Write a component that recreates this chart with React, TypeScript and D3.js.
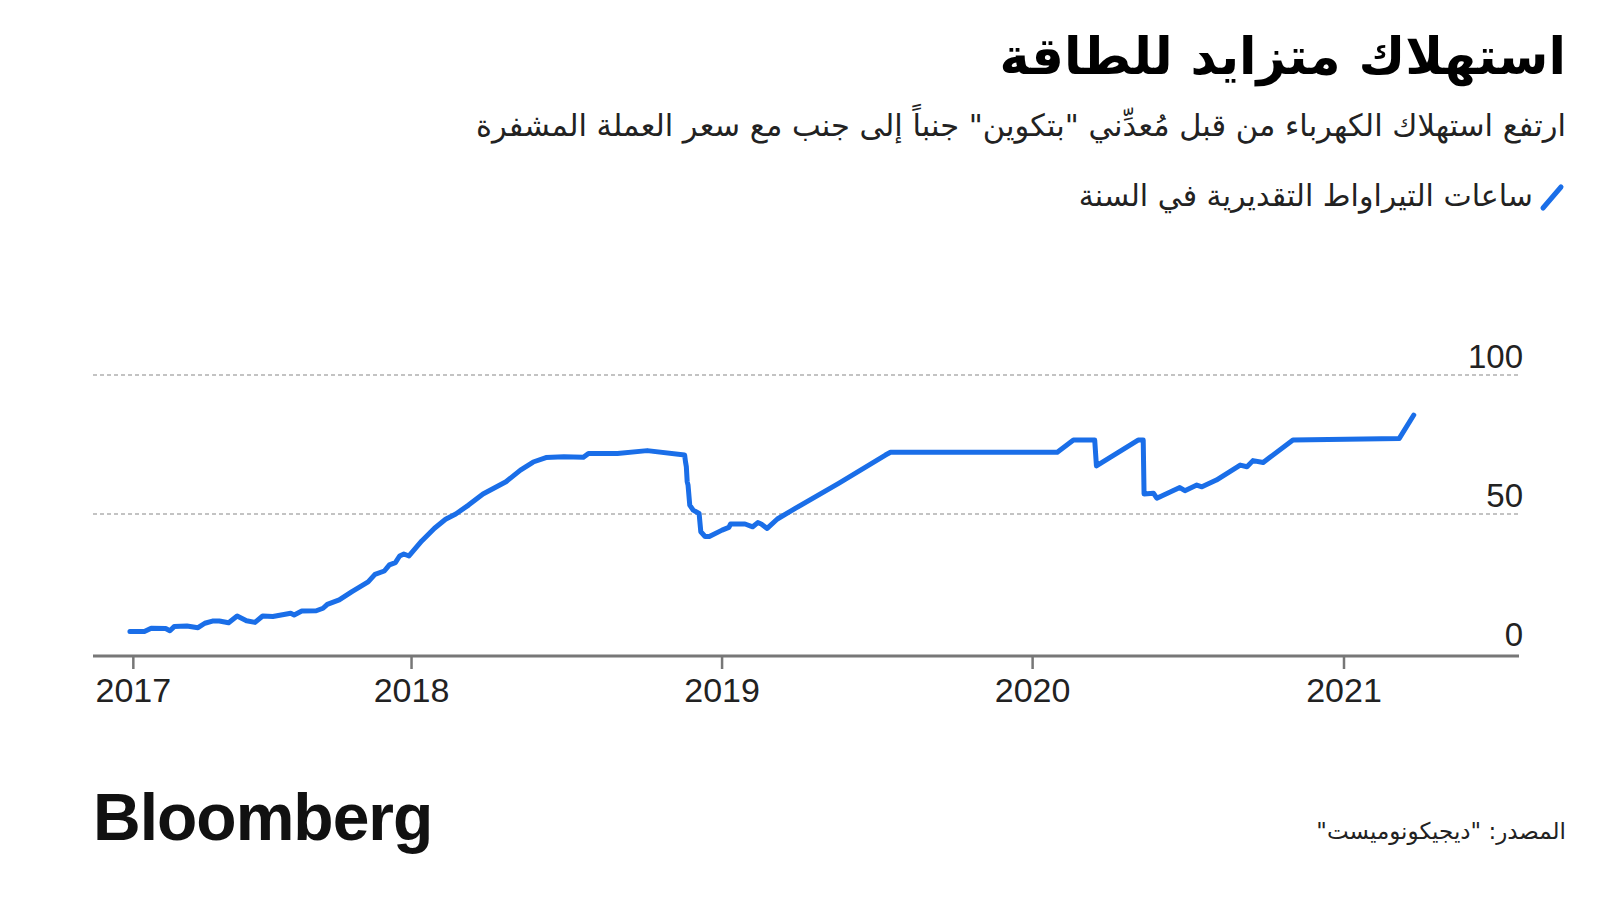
import React from 'react';
import * as d3 from 'd3';

// قراءة تقريبية من الرسم الأصلي
const dates = [
  '2017-02-04', '2017-02-21', '2017-03-01', '2017-03-18', '2017-03-23', '2017-03-28', '2017-04-12', '2017-04-25',
  '2017-05-03', '2017-05-12', '2017-05-20', '2017-05-31', '2017-06-10', '2017-06-21', '2017-07-01', '2017-07-10',
  '2017-07-22', '2017-08-12', '2017-08-16', '2017-08-25', '2017-09-11', '2017-09-19', '2017-09-24', '2017-10-08',
  '2017-10-23', '2017-11-11', '2017-11-19', '2017-11-30', '2017-12-06', '2017-12-13', '2017-12-18', '2017-12-23',
  '2017-12-29', '2018-01-13', '2018-01-28', '2018-02-10', '2018-02-22', '2018-03-09', '2018-03-26', '2018-04-22',
  '2018-05-09', '2018-05-24', '2018-06-08', '2018-06-29', '2018-07-22', '2018-07-28', '2018-08-31', '2018-10-05',
  '2018-11-18', '2018-11-19', '2018-11-20', '2018-11-21', '2018-11-22', '2018-11-24', '2018-11-28', '2018-12-05',
  '2018-12-07', '2018-12-12', '2018-12-17', '2019-01-01', '2019-01-09', '2019-01-11', '2019-01-28', '2019-02-06',
  '2019-02-12', '2019-02-16', '2019-02-23', '2019-03-07', '2019-03-28', '2019-05-18', '2019-07-12', '2019-07-18',
  '2020-01-30', '2020-02-18', '2020-03-14', '2020-03-16', '2020-05-04', '2020-05-10', '2020-05-11', '2020-05-22',
  '2020-05-26', '2020-06-22', '2020-06-28', '2020-07-12', '2020-07-18', '2020-08-04', '2020-09-01', '2020-09-09',
  '2020-09-16', '2020-09-28', '2020-10-06', '2020-11-02', '2021-03-07', '2021-03-24',
];

const twh = [
  7.7, 7.7, 8.9, 8.8, 8.0, 9.5, 9.7, 9.1,
  10.7, 11.5, 11.5, 10.9, 13.3, 11.6, 11.0, 13.3,
  13.1, 14.3, 13.7, 15.1, 15.2, 16.1, 17.5, 19.1,
  22.1, 25.6, 28.3, 29.5, 31.7, 32.5, 34.9, 35.6,
  34.9, 40.3, 44.9, 48.1, 50.0, 53.2, 57.2, 61.6,
  65.8, 68.7, 70.3, 70.6, 70.4, 71.8, 71.8, 72.8,
  71.2, 68.8, 67.0, 61.6, 60.4, 53.2, 51.4, 50.2,
  43.6, 41.9, 41.9, 44.2, 45.2, 46.4, 46.4, 45.4,
  46.9, 46.4, 44.8, 48.2, 52.0, 61.0, 71.2, 72.2,
  72.2, 76.6, 76.6, 67.3, 76.6, 76.6, 57.2, 57.5,
  55.7, 59.5, 58.4, 60.4, 59.8, 62.2, 67.6, 67.0,
  69.2, 68.5, 70.4, 76.6, 77.2, 85.6,
];

const xTickDates = ['2017-02-08', '2018-01-01', '2019-01-01', '2020-01-01', '2021-01-01'];
const xTickLabels = ['2017', '2018', '2019', '2020', '2021'];
const yTicks = [0, 50, 100];

const title = 'استهلاك متزايد للطاقة';
const subtitle = 'ارتفع استهلاك الكهرباء من قبل مُعدِّني "بتكوين" جنباً إلى جنب مع سعر العملة المشفرة';
const legendLabel = 'ساعات التيراواط التقديرية في السنة';
const source = 'المصدر: "ديجيكونوميست"';

const W = 1600;
const H = 900;
const BLUE = '#1a6ee8';
const arabicFont = '"DejaVu Sans", sans-serif';
const latinFont = '"Liberation Sans", Arial, sans-serif';

export default () => {
  const parse = d3.timeParse('%Y-%m-%d');
  const data = dates.map((d, i) => ({ date: parse(d) as Date, value: twh[i] }));

  const x = d3.scaleTime()
    .domain([new Date(2017, 0, 1), new Date(2021, 0, 1)])
    .range([101, 1344]);
  const y = d3.scaleLinear().domain([0, 100]).range([653, 375]);

  const line = d3.line<{ date: Date; value: number }>()
    .x(d => x(d.date))
    .y(d => y(d.value));

  const left = 93;
  const right = 1519;
  const axisY = y(0) + 3;

  return (
    <svg width={W} height={H} style={{ position: 'absolute', left: 0, top: 0, background: '#fff' }}>
      {/* titles */}
      <text x={1566} y={74} direction="rtl" textAnchor="start" fontFamily={arabicFont}
        fontWeight="bold" fontSize={51} fill="#000">{title}</text>
      <text x={1566} y={136} direction="rtl" textAnchor="start" fontFamily={arabicFont}
        fontSize={30.5} fill="#222">{subtitle}</text>

      {/* legend */}
      <line x1={1543} y1={208} x2={1561} y2={187} stroke={BLUE} strokeWidth={5} strokeLinecap="round" />
      <text x={1533} y={206} direction="rtl" textAnchor="start" fontFamily={arabicFont}
        fontSize={30} fill="#222">{legendLabel}</text>

      {/* grid + y labels */}
      {yTicks.map(t => (
        <g key={t}>
          {t > 0 && (
            <line x1={left} x2={right} y1={y(t)} y2={y(t)} stroke="#888" strokeWidth={1.2}
              strokeDasharray="4,3" />
          )}
          <text x={1523} y={y(t) - 7} textAnchor="end" fontFamily={latinFont} fontSize={33}
            fill="#222">{t}</text>
        </g>
      ))}

      {/* x axis */}
      <line x1={left} x2={right} y1={axisY} y2={axisY} stroke="#777" strokeWidth={3} />
      {xTickDates.map((d, i) => {
        const px = x(parse(d) as Date);
        return (
          <g key={d}>
            <line x1={px} x2={px} y1={axisY} y2={axisY + 13} stroke="#777" strokeWidth={2.5} />
            <text x={px} y={702} textAnchor="middle" fontFamily={latinFont} fontSize={34}
              fill="#222">{xTickLabels[i]}</text>
          </g>
        );
      })}

      {/* the series */}
      <path d={line(data) || ''} fill="none" stroke={BLUE} strokeWidth={5}
        strokeLinejoin="round" strokeLinecap="round" />

      {/* footer */}
      <text x={93} y={840} fontFamily={latinFont} fontWeight="bold" fontSize={66}
        letterSpacing={-1} fill="#111">Bloomberg</text>
      <text x={1566} y={839} direction="rtl" textAnchor="start" fontFamily={arabicFont}
        fontSize={23} fill="#222">{source}</text>
    </svg>
  );
};
